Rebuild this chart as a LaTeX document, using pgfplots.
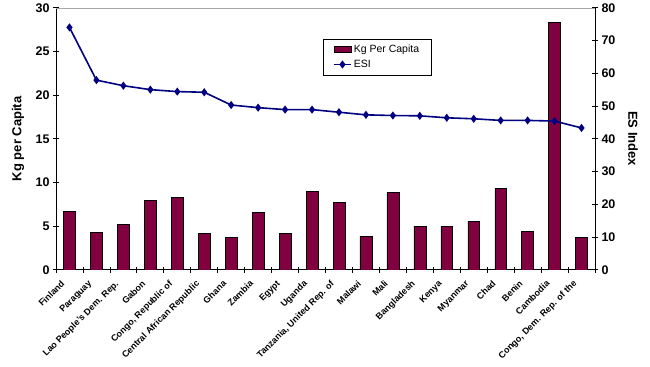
\documentclass[border=0pt]{standalone}
\usepackage{pgfplots}
\pgfplotsset{compat=1.18}
\usepackage{fontspec}
\setmainfont{Liberation Sans}
\definecolor{barcol}{RGB}{128,0,64}
\definecolor{linecol}{RGB}{0,0,128}
\begin{document}
\begin{tikzpicture}
\pgfplotsset{
  common/.style={
    scale only axis, width=539pt, height=262pt,
    xmin=-0.5, xmax=19.5, ymin=0,
    tick align=center,
    major tick length=6pt, minor tick length=6pt,
    tick style={black, line width=0.8pt},
    /pgf/number format/assume math mode=true,
    yticklabel style={font=\bfseries\fontsize{12.5}{12.5}\selectfont},
    ylabel style={font=\bfseries\fontsize{13}{13}\selectfont},
  }
}
\begin{axis}[common,
  ymax=30,
  axis x line*=bottom, axis y line*=left,
  axis line style={black, line width=0.8pt, -},
  xtick={0,...,19},
  major x tick style={draw=none},
  minor xtick={-0.5,0.5,...,19.5},
  xticklabels={Finland, Paraguay, {Lao People's Dem. Rep.}, Gabon, {Congo, Republic of}, {Central African Republic}, Ghana, Zambia, Egypt, Uganda, {Tanzania, United Rep. of}, Malawi, Mali, Bangladesh, Kenya, Myanmar, Chad, Benin, Cambodia, {Congo, Dem. Rep. of the}},
  x tick label style={xshift=-9pt, yshift=-6pt, rotate=45, anchor=north east, font=\bfseries\fontsize{9}{9}\selectfont, inner sep=0.5pt},
  ytick={0,5,...,30},
  ylabel={Kg per Capita},
  ylabel style={at={(axis description cs:-0.0705,0.5)}, anchor=center},
]
\addplot[ybar, bar width=0.44, fill=barcol, draw=black, line width=0.5pt] coordinates {
(0,6.65) (1,4.24) (2,5.23) (3,7.98) (4,8.33) (5,4.13) (6,3.70) (7,6.57) (8,4.13) (9,8.98)
(10,7.68) (11,3.82) (12,8.83) (13,5.0) (14,5.0) (15,5.57) (16,9.32) (17,4.39) (18,28.3) (19,3.70)
};
\draw[gray!70, line width=0.5pt] (rel axis cs:0,1) -- (rel axis cs:1,1);
\end{axis}
\begin{axis}[common,
  ymax=80,
  axis x line=none, axis y line*=right,
  axis line style={black, line width=0.8pt, -},
  ytick={0,10,...,80},
  ylabel={ES Index},
  ylabel style={at={(axis description cs:1.0705,0.5)}, anchor=center, rotate=180},
  legend style={at={(rel axis cs:0.495,0.882)}, anchor=north west, draw=black, line width=0.6pt,
    font=\fontsize{10.5}{11}\selectfont, inner xsep=10pt, inner ysep=4pt, row sep=2pt},
  legend cell align=left,
]
\addlegendimage{area legend, fill=barcol, draw=black}
\addlegendentry{Kg Per Capita}
\addplot[linecol, line width=1.6pt, mark=diamond*, mark size=2.8pt, mark options={solid}] coordinates {
(0,74.0) (1,57.9) (2,56.2) (3,55.0) (4,54.4) (5,54.2) (6,50.3) (7,49.5) (8,48.9) (9,48.9)
(10,48.1) (11,47.3) (12,47.1) (13,47.0) (14,46.4) (15,46.1) (16,45.6) (17,45.6) (18,45.4) (19,43.3)
};
\addlegendentry{ESI}
\end{axis}
\path[use as bounding box] (-56pt,-97pt) rectangle (594pt,269pt);
\end{tikzpicture}
\end{document}
